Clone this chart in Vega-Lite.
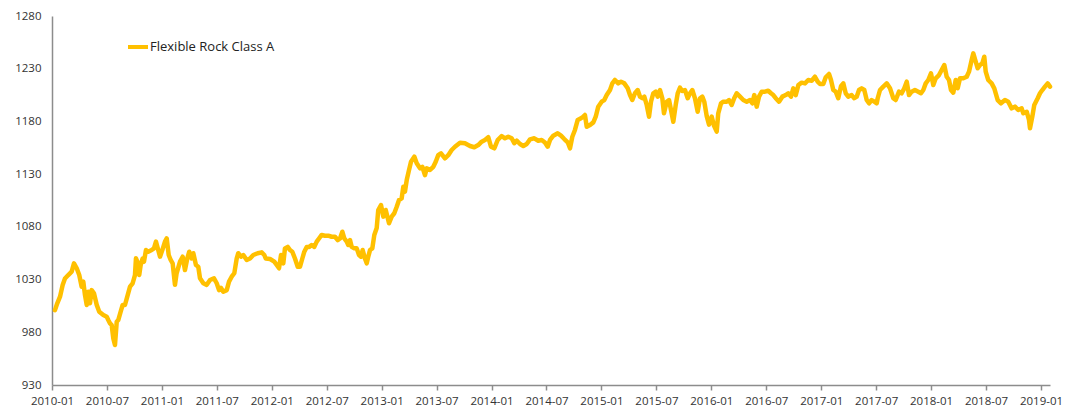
{
  "$schema": "https://vega.github.io/schema/vega-lite/v6.json",
  "width": 998,
  "height": 369,
  "autosize": {"type": "none"},
  "padding": {"left": 52, "top": 16, "right": 24, "bottom": 25},
  "background": "white",
  "config": {
    "view": {"stroke": null},
    "font": "Open Sans",
    "axis": {"labelFont": "Open Sans", "labelFontSize": 11.5, "labelColor": "#333333", "domainColor": "#8c8c8c", "tickColor": "#8c8c8c", "domainWidth": 1.5, "tickWidth": 1.5, "grid": false, "title": null}
  },
  "data": {
    "values": [
      {"t": 2010.027, "value": 1001},
      {"t": 2010.048, "value": 1007.5},
      {"t": 2010.073, "value": 1013.8},
      {"t": 2010.097, "value": 1024.9},
      {"t": 2010.118, "value": 1031},
      {"t": 2010.148, "value": 1034.3},
      {"t": 2010.179, "value": 1037.5},
      {"t": 2010.2, "value": 1045.4},
      {"t": 2010.225, "value": 1040.7},
      {"t": 2010.248, "value": 1034.3},
      {"t": 2010.27, "value": 1023.2},
      {"t": 2010.285, "value": 1028},
      {"t": 2010.3, "value": 1015.4},
      {"t": 2010.316, "value": 1005.9},
      {"t": 2010.33, "value": 1018.5},
      {"t": 2010.346, "value": 1007.5},
      {"t": 2010.361, "value": 1020},
      {"t": 2010.382, "value": 1017},
      {"t": 2010.407, "value": 1006},
      {"t": 2010.43, "value": 999.5},
      {"t": 2010.467, "value": 996.4},
      {"t": 2010.498, "value": 994.8},
      {"t": 2010.512, "value": 991.6},
      {"t": 2010.528, "value": 988.5},
      {"t": 2010.543, "value": 986.9},
      {"t": 2010.558, "value": 974.2},
      {"t": 2010.573, "value": 967.9},
      {"t": 2010.589, "value": 990},
      {"t": 2010.603, "value": 991.6},
      {"t": 2010.625, "value": 999.5},
      {"t": 2010.643, "value": 1005.9},
      {"t": 2010.664, "value": 1005.9},
      {"t": 2010.685, "value": 1013.8},
      {"t": 2010.71, "value": 1023.3},
      {"t": 2010.734, "value": 1026.5},
      {"t": 2010.755, "value": 1034.3},
      {"t": 2010.764, "value": 1050.2},
      {"t": 2010.776, "value": 1047},
      {"t": 2010.794, "value": 1034.3},
      {"t": 2010.807, "value": 1043.8},
      {"t": 2010.825, "value": 1050},
      {"t": 2010.837, "value": 1047},
      {"t": 2010.855, "value": 1058},
      {"t": 2010.876, "value": 1056.4},
      {"t": 2010.907, "value": 1058},
      {"t": 2010.928, "value": 1059.6},
      {"t": 2010.946, "value": 1066},
      {"t": 2010.967, "value": 1058},
      {"t": 2010.983, "value": 1051.7},
      {"t": 2011.004, "value": 1058},
      {"t": 2011.028, "value": 1066},
      {"t": 2011.044, "value": 1069},
      {"t": 2011.062, "value": 1053.3},
      {"t": 2011.08, "value": 1048.6},
      {"t": 2011.098, "value": 1045.4},
      {"t": 2011.119, "value": 1025},
      {"t": 2011.134, "value": 1036},
      {"t": 2011.165, "value": 1047},
      {"t": 2011.189, "value": 1051.7},
      {"t": 2011.21, "value": 1039},
      {"t": 2011.231, "value": 1050},
      {"t": 2011.249, "value": 1056.4},
      {"t": 2011.271, "value": 1050},
      {"t": 2011.286, "value": 1055},
      {"t": 2011.31, "value": 1043.8},
      {"t": 2011.331, "value": 1042.2},
      {"t": 2011.347, "value": 1031.2},
      {"t": 2011.377, "value": 1026.5},
      {"t": 2011.408, "value": 1025},
      {"t": 2011.438, "value": 1029.6},
      {"t": 2011.474, "value": 1031.2},
      {"t": 2011.499, "value": 1026.5},
      {"t": 2011.52, "value": 1020},
      {"t": 2011.538, "value": 1022},
      {"t": 2011.559, "value": 1018.5},
      {"t": 2011.59, "value": 1020},
      {"t": 2011.611, "value": 1028},
      {"t": 2011.635, "value": 1032.7},
      {"t": 2011.659, "value": 1036},
      {"t": 2011.681, "value": 1050},
      {"t": 2011.695, "value": 1055},
      {"t": 2011.72, "value": 1051.7},
      {"t": 2011.741, "value": 1053.3},
      {"t": 2011.772, "value": 1048.6},
      {"t": 2011.802, "value": 1050},
      {"t": 2011.832, "value": 1053.3},
      {"t": 2011.872, "value": 1055},
      {"t": 2011.908, "value": 1055.8},
      {"t": 2011.932, "value": 1053.3},
      {"t": 2011.945, "value": 1050},
      {"t": 2011.984, "value": 1049.5},
      {"t": 2012.023, "value": 1047},
      {"t": 2012.045, "value": 1043.8},
      {"t": 2012.066, "value": 1040.7},
      {"t": 2012.084, "value": 1053.3},
      {"t": 2012.105, "value": 1045.4},
      {"t": 2012.12, "value": 1059.6},
      {"t": 2012.145, "value": 1061},
      {"t": 2012.166, "value": 1058},
      {"t": 2012.187, "value": 1056.4},
      {"t": 2012.211, "value": 1050},
      {"t": 2012.236, "value": 1042.2},
      {"t": 2012.257, "value": 1042.2},
      {"t": 2012.278, "value": 1050},
      {"t": 2012.296, "value": 1056.4},
      {"t": 2012.318, "value": 1061},
      {"t": 2012.341, "value": 1061},
      {"t": 2012.363, "value": 1062.8},
      {"t": 2012.387, "value": 1061},
      {"t": 2012.409, "value": 1066},
      {"t": 2012.43, "value": 1069},
      {"t": 2012.454, "value": 1072.3},
      {"t": 2012.484, "value": 1071.6},
      {"t": 2012.514, "value": 1071.6},
      {"t": 2012.545, "value": 1070.6},
      {"t": 2012.575, "value": 1070.6},
      {"t": 2012.6, "value": 1067.5},
      {"t": 2012.621, "value": 1069},
      {"t": 2012.642, "value": 1075.4},
      {"t": 2012.66, "value": 1069},
      {"t": 2012.682, "value": 1066},
      {"t": 2012.696, "value": 1062.8},
      {"t": 2012.712, "value": 1067.5},
      {"t": 2012.727, "value": 1061},
      {"t": 2012.751, "value": 1059.6},
      {"t": 2012.773, "value": 1059.6},
      {"t": 2012.794, "value": 1053.3},
      {"t": 2012.812, "value": 1051.7},
      {"t": 2012.827, "value": 1058},
      {"t": 2012.848, "value": 1050},
      {"t": 2012.864, "value": 1045.4},
      {"t": 2012.878, "value": 1051.7},
      {"t": 2012.894, "value": 1058},
      {"t": 2012.915, "value": 1059.6},
      {"t": 2012.933, "value": 1072.3},
      {"t": 2012.955, "value": 1079},
      {"t": 2012.969, "value": 1096},
      {"t": 2012.994, "value": 1100.7},
      {"t": 2013.015, "value": 1089.7},
      {"t": 2013.037, "value": 1096},
      {"t": 2013.067, "value": 1083.4},
      {"t": 2013.091, "value": 1089.7},
      {"t": 2013.115, "value": 1092.9},
      {"t": 2013.137, "value": 1099},
      {"t": 2013.158, "value": 1105.5},
      {"t": 2013.182, "value": 1107},
      {"t": 2013.197, "value": 1118},
      {"t": 2013.212, "value": 1113.4},
      {"t": 2013.228, "value": 1124.4},
      {"t": 2013.249, "value": 1134},
      {"t": 2013.267, "value": 1141.8},
      {"t": 2013.297, "value": 1146.6},
      {"t": 2013.319, "value": 1140.3},
      {"t": 2013.349, "value": 1135.5},
      {"t": 2013.37, "value": 1137},
      {"t": 2013.394, "value": 1129},
      {"t": 2013.41, "value": 1135.5},
      {"t": 2013.44, "value": 1134},
      {"t": 2013.47, "value": 1137},
      {"t": 2013.492, "value": 1141.8},
      {"t": 2013.515, "value": 1148},
      {"t": 2013.54, "value": 1149.8},
      {"t": 2013.576, "value": 1145},
      {"t": 2013.606, "value": 1148},
      {"t": 2013.637, "value": 1152.9},
      {"t": 2013.667, "value": 1156},
      {"t": 2013.713, "value": 1159.8},
      {"t": 2013.758, "value": 1159.3},
      {"t": 2013.804, "value": 1156.7},
      {"t": 2013.843, "value": 1155.5},
      {"t": 2013.879, "value": 1157.6},
      {"t": 2013.91, "value": 1160.8},
      {"t": 2013.94, "value": 1162.4},
      {"t": 2013.97, "value": 1165},
      {"t": 2013.995, "value": 1156},
      {"t": 2014.025, "value": 1154.5},
      {"t": 2014.056, "value": 1162.4},
      {"t": 2014.092, "value": 1166.2},
      {"t": 2014.122, "value": 1164},
      {"t": 2014.152, "value": 1165.5},
      {"t": 2014.183, "value": 1164},
      {"t": 2014.207, "value": 1159.3},
      {"t": 2014.229, "value": 1161.7},
      {"t": 2014.259, "value": 1158.6},
      {"t": 2014.289, "value": 1156.7},
      {"t": 2014.32, "value": 1158.6},
      {"t": 2014.35, "value": 1163},
      {"t": 2014.389, "value": 1164},
      {"t": 2014.425, "value": 1161.7},
      {"t": 2014.456, "value": 1162.4},
      {"t": 2014.486, "value": 1160},
      {"t": 2014.511, "value": 1156},
      {"t": 2014.532, "value": 1162.4},
      {"t": 2014.562, "value": 1166.5},
      {"t": 2014.602, "value": 1168.7},
      {"t": 2014.632, "value": 1166.5},
      {"t": 2014.662, "value": 1163.3},
      {"t": 2014.693, "value": 1160.2},
      {"t": 2014.714, "value": 1154.5},
      {"t": 2014.735, "value": 1165.5},
      {"t": 2014.759, "value": 1171.9},
      {"t": 2014.784, "value": 1181.4},
      {"t": 2014.814, "value": 1183},
      {"t": 2014.835, "value": 1184.5},
      {"t": 2014.85, "value": 1186.1},
      {"t": 2014.866, "value": 1175},
      {"t": 2014.896, "value": 1176.6},
      {"t": 2014.926, "value": 1179.1},
      {"t": 2014.948, "value": 1184.5},
      {"t": 2014.971, "value": 1194},
      {"t": 2015.002, "value": 1198.7},
      {"t": 2015.026, "value": 1200.3},
      {"t": 2015.048, "value": 1205},
      {"t": 2015.078, "value": 1209.8},
      {"t": 2015.099, "value": 1216.1},
      {"t": 2015.123, "value": 1219.3},
      {"t": 2015.153, "value": 1216.1},
      {"t": 2015.178, "value": 1217.7},
      {"t": 2015.208, "value": 1216.1},
      {"t": 2015.239, "value": 1211.4},
      {"t": 2015.26, "value": 1205},
      {"t": 2015.281, "value": 1200.3},
      {"t": 2015.305, "value": 1206.7},
      {"t": 2015.33, "value": 1209.8},
      {"t": 2015.351, "value": 1203.5},
      {"t": 2015.372, "value": 1202},
      {"t": 2015.39, "value": 1203.5},
      {"t": 2015.412, "value": 1195.6},
      {"t": 2015.433, "value": 1184.5},
      {"t": 2015.451, "value": 1198.7},
      {"t": 2015.472, "value": 1206.7},
      {"t": 2015.494, "value": 1208.2},
      {"t": 2015.512, "value": 1203.5},
      {"t": 2015.533, "value": 1209.8},
      {"t": 2015.554, "value": 1202},
      {"t": 2015.569, "value": 1187.7},
      {"t": 2015.594, "value": 1198.7},
      {"t": 2015.615, "value": 1200.3},
      {"t": 2015.633, "value": 1190.8},
      {"t": 2015.654, "value": 1179.7},
      {"t": 2015.676, "value": 1195.6},
      {"t": 2015.694, "value": 1206.7},
      {"t": 2015.715, "value": 1212},
      {"t": 2015.736, "value": 1208.9},
      {"t": 2015.76, "value": 1209.8},
      {"t": 2015.785, "value": 1202},
      {"t": 2015.806, "value": 1206.7},
      {"t": 2015.827, "value": 1209.8},
      {"t": 2015.851, "value": 1202},
      {"t": 2015.876, "value": 1189.2},
      {"t": 2015.897, "value": 1202},
      {"t": 2015.918, "value": 1203.5},
      {"t": 2015.936, "value": 1198.7},
      {"t": 2015.958, "value": 1185},
      {"t": 2015.979, "value": 1177},
      {"t": 2016.003, "value": 1184.5},
      {"t": 2016.024, "value": 1176},
      {"t": 2016.049, "value": 1170.3},
      {"t": 2016.063, "value": 1187.7},
      {"t": 2016.088, "value": 1197.2},
      {"t": 2016.109, "value": 1198.7},
      {"t": 2016.14, "value": 1198.7},
      {"t": 2016.161, "value": 1200.3},
      {"t": 2016.185, "value": 1195.6},
      {"t": 2016.208, "value": 1202},
      {"t": 2016.231, "value": 1206.7},
      {"t": 2016.261, "value": 1203.5},
      {"t": 2016.291, "value": 1200.3},
      {"t": 2016.322, "value": 1198.7},
      {"t": 2016.352, "value": 1200.3},
      {"t": 2016.373, "value": 1197.2},
      {"t": 2016.391, "value": 1205},
      {"t": 2016.413, "value": 1194},
      {"t": 2016.434, "value": 1203.5},
      {"t": 2016.458, "value": 1208.2},
      {"t": 2016.488, "value": 1208.2},
      {"t": 2016.518, "value": 1209.1},
      {"t": 2016.543, "value": 1206.7},
      {"t": 2016.564, "value": 1205},
      {"t": 2016.586, "value": 1202},
      {"t": 2016.616, "value": 1198.7},
      {"t": 2016.646, "value": 1203.5},
      {"t": 2016.677, "value": 1205},
      {"t": 2016.7, "value": 1206.7},
      {"t": 2016.725, "value": 1203.5},
      {"t": 2016.746, "value": 1211.4},
      {"t": 2016.768, "value": 1205},
      {"t": 2016.792, "value": 1214.5},
      {"t": 2016.822, "value": 1216.8},
      {"t": 2016.852, "value": 1216.1},
      {"t": 2016.882, "value": 1219.3},
      {"t": 2016.913, "value": 1218.6},
      {"t": 2016.943, "value": 1222.4},
      {"t": 2016.968, "value": 1217.7},
      {"t": 2016.989, "value": 1215.5},
      {"t": 2017.019, "value": 1215.5},
      {"t": 2017.041, "value": 1221.9},
      {"t": 2017.071, "value": 1225},
      {"t": 2017.089, "value": 1219.3},
      {"t": 2017.11, "value": 1209.8},
      {"t": 2017.132, "value": 1208.2},
      {"t": 2017.155, "value": 1202},
      {"t": 2017.18, "value": 1213.4},
      {"t": 2017.201, "value": 1216.1},
      {"t": 2017.223, "value": 1206.7},
      {"t": 2017.246, "value": 1203.5},
      {"t": 2017.277, "value": 1205},
      {"t": 2017.301, "value": 1202},
      {"t": 2017.323, "value": 1203.5},
      {"t": 2017.344, "value": 1209.8},
      {"t": 2017.368, "value": 1211.4},
      {"t": 2017.392, "value": 1209.8},
      {"t": 2017.414, "value": 1200.3},
      {"t": 2017.435, "value": 1197.2},
      {"t": 2017.459, "value": 1200.3},
      {"t": 2017.483, "value": 1198.7},
      {"t": 2017.505, "value": 1197.2},
      {"t": 2017.514, "value": 1202},
      {"t": 2017.535, "value": 1209.8},
      {"t": 2017.565, "value": 1213},
      {"t": 2017.596, "value": 1216.1},
      {"t": 2017.626, "value": 1211.4},
      {"t": 2017.656, "value": 1202},
      {"t": 2017.678, "value": 1200.3},
      {"t": 2017.708, "value": 1208.2},
      {"t": 2017.732, "value": 1206.7},
      {"t": 2017.756, "value": 1211.4},
      {"t": 2017.778, "value": 1217.7},
      {"t": 2017.799, "value": 1205},
      {"t": 2017.823, "value": 1208.2},
      {"t": 2017.853, "value": 1209.8},
      {"t": 2017.883, "value": 1208.2},
      {"t": 2017.908, "value": 1206.7},
      {"t": 2017.929, "value": 1209.8},
      {"t": 2017.951, "value": 1216.1},
      {"t": 2017.974, "value": 1219.3},
      {"t": 2017.999, "value": 1225.6},
      {"t": 2018.02, "value": 1214.5},
      {"t": 2018.042, "value": 1220.9},
      {"t": 2018.072, "value": 1224},
      {"t": 2018.096, "value": 1228.8},
      {"t": 2018.12, "value": 1233.5},
      {"t": 2018.142, "value": 1222.4},
      {"t": 2018.163, "value": 1219.3},
      {"t": 2018.181, "value": 1209.8},
      {"t": 2018.202, "value": 1207.3},
      {"t": 2018.224, "value": 1219.3},
      {"t": 2018.242, "value": 1211.4},
      {"t": 2018.263, "value": 1220.9},
      {"t": 2018.293, "value": 1220.9},
      {"t": 2018.324, "value": 1222.4},
      {"t": 2018.345, "value": 1227.2},
      {"t": 2018.369, "value": 1238.3},
      {"t": 2018.384, "value": 1244.6},
      {"t": 2018.406, "value": 1236.7},
      {"t": 2018.424, "value": 1230.4},
      {"t": 2018.445, "value": 1233.5},
      {"t": 2018.466, "value": 1235.1},
      {"t": 2018.484, "value": 1241.4},
      {"t": 2018.497, "value": 1227.2},
      {"t": 2018.52, "value": 1219.3},
      {"t": 2018.551, "value": 1216.1},
      {"t": 2018.575, "value": 1211.4},
      {"t": 2018.606, "value": 1200.3},
      {"t": 2018.636, "value": 1197.2},
      {"t": 2018.672, "value": 1200.3},
      {"t": 2018.702, "value": 1198.7},
      {"t": 2018.733, "value": 1192.4},
      {"t": 2018.763, "value": 1194},
      {"t": 2018.793, "value": 1190.8},
      {"t": 2018.824, "value": 1192.4},
      {"t": 2018.839, "value": 1187.7},
      {"t": 2018.87, "value": 1189.2},
      {"t": 2018.891, "value": 1181.4},
      {"t": 2018.9, "value": 1173.5},
      {"t": 2018.921, "value": 1184.5},
      {"t": 2018.939, "value": 1195.6},
      {"t": 2018.97, "value": 1202},
      {"t": 2018.991, "value": 1206.7},
      {"t": 2019.012, "value": 1209.8},
      {"t": 2019.036, "value": 1213},
      {"t": 2019.061, "value": 1216.1},
      {"t": 2019.082, "value": 1213}
    ]
  },
  "mark": {"type": "line", "strokeWidth": 4.5, "strokeJoin": "round", "strokeCap": "round", "interpolate": "linear"},
  "encoding": {
    "x": {
      "field": "t",
      "type": "quantitative",
      "scale": {"domain": [2010, 2019.082], "nice": false, "zero": false},
      "axis": {
        "values": [2010, 2010.5, 2011, 2011.5, 2012, 2012.5, 2013, 2013.5, 2014, 2014.5, 2015, 2015.5, 2016, 2016.5, 2017, 2017.5, 2018, 2018.5, 2019],
        "labelExpr": "floor(datum.value) + (datum.value - floor(datum.value) > 0.25 ? '-07' : '-01')",
        "tickSize": 5,
        "labelPadding": 5,
        "labelOverlap": false,
        "labelBound": false,
        "labelFlush": false
      }
    },
    "y": {
      "field": "value",
      "type": "quantitative",
      "scale": {"domain": [930, 1280], "nice": false, "zero": false},
      "axis": {
        "values": [930, 980, 1030, 1080, 1130, 1180, 1230, 1280],
        "format": "d",
        "ticks": false,
        "labelPadding": 11,
        "labelOverlap": false
      }
    },
    "color": {
      "datum": "Flexible Rock Class A",
      "type": "nominal",
      "scale": {"range": ["#FFC000"]},
      "legend": {
        "title": null,
        "orient": "none",
        "legendX": 74,
        "legendY": 19,
        "symbolType": "stroke",
        "symbolSize": 400,
        "symbolStrokeWidth": 4,
        "labelFont": "Open Sans",
        "labelFontSize": 13,
        "labelColor": "#222222",
        "labelOffset": 0,
        "padding": 0
      }
    }
  }
}
